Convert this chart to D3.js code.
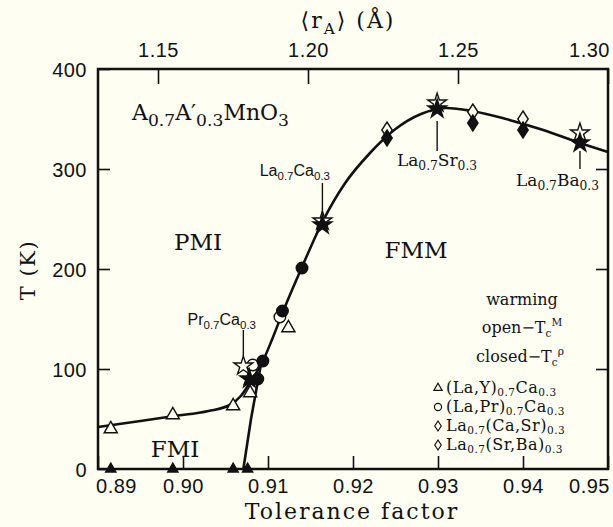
<!DOCTYPE html>
<html>
<head>
<meta charset="utf-8">
<script src="https://cdn.jsdelivr.net/npm/d3@7"></script>
<style>
  body { margin: 0; background: #fefef2; }
  svg { display: block; }
</style>
</head>
<body>
<svg width="613" height="527"></svg>
<script>
// phase boundary curves
var tcLineT = [0.8900, 0.8950, 0.8990, 0.9030, 0.9055, 0.9068, 0.9080, 0.9094, 0.9105, 0.9117, 0.9140, 0.9164, 0.9190, 0.9220, 0.9250, 0.9280, 0.9310, 0.9340, 0.9380, 0.9420, 0.9467, 0.9500];
var tcLineK = [42, 48, 53, 58, 64, 73, 88, 108, 130, 156, 202, 247, 285, 316, 340, 355, 361, 358, 350, 340, 326, 317];
var fmiLineT = [0.9071, 0.9080, 0.9092];
var fmiLineK = [0, 50, 106];

// (La,Y)0.7Ca0.3
var yOpenT = [0.8915, 0.8988, 0.9059, 0.9079, 0.9124];
var yOpenK = [40, 54, 63, 76, 141];
var yFillT = [0.8915, 0.8988, 0.9059, 0.9076, 0.9078];
var yFillK = [0, 0, 0, 0, 88];
// (La,Pr)0.7Ca0.3
var prOpenT = [0.9082, 0.9114];
var prOpenK = [104, 152];
var prFillT = [0.9088, 0.9094, 0.9117, 0.9140];
var prFillK = [90, 108, 158, 201];
// La0.7(Ca,Sr)0.3 and La0.7(Sr,Ba)0.3
var dOpenT = [0.9240, 0.9341, 0.9400];
var dOpenK = [339, 357, 350];
var dFillT = [0.9240, 0.9341, 0.9400];
var dFillK = [331, 346, 339];
// end members
var sOpenT = [0.9071, 0.9164, 0.9299, 0.9467];
var sOpenK = [103, 248, 366, 336];
var sFillT = [0.9078, 0.9164, 0.9299, 0.9467];
var sFillK = [90, 244, 360, 326];

var bottomTicks = [0.89, 0.90, 0.91, 0.92, 0.93, 0.94, 0.95];
var topTicks = [1.15, 1.20, 1.25, 1.30];
var leftTicks = [0, 100, 200, 300, 400];

var svg = d3.select('svg');
var x = d3.scaleLinear().domain([0.89, 0.95]).range([98, 608]);
var xTop = d3.scaleLinear().domain([1.13, 1.30]).range([98, 608]);
var y = d3.scaleLinear().domain([0, 400]).range([469, 69]);

var serif = "'DejaVu Serif', serif";
var sans = "'Liberation Sans', Arial, sans-serif";

// text with _{sub} and ^{sup}
var rich = function(sel, str, size, ratio, drop) {
  ratio = ratio || 0.66;
  drop = drop || 0.26;
  var re = /([_^])\{([^}]*)\}|([^_^]+)/g;
  var m, off = 0;
  while ((m = re.exec(str))) {
    var kind = m[1] || '';
    var target = kind == '_' ? size * drop : kind == '^' ? -size * 0.42 : 0;
    sel.append('tspan')
      .attr('dy', target - off)
      .attr('font-size', kind ? size * ratio : size)
      .text(kind ? m[2] : m[3]);
    off = target;
  }
  return sel;
}

var label = function(px, py, str, size, font, anchor, ratio, drop) {
  var t = svg.append('text')
    .attr('x', px).attr('y', py)
    .attr('font-family', font)
    .attr('text-anchor', anchor || 'start')
    .attr('fill', '#111');
  return rich(t, str, size, ratio, drop);
}

// axes with inward ticks
var axB = svg.append('g').attr('transform', 'translate(0,469)')
  .call(d3.axisBottom(x).tickValues(bottomTicks).tickSize(-13).tickPadding(24).tickFormat(d3.format('.2f')));
var axT = svg.append('g').attr('transform', 'translate(0,69)')
  .call(d3.axisTop(xTop).tickValues(topTicks).tickSize(-15).tickPadding(12).tickFormat(d3.format('.2f')));
var axL = svg.append('g').attr('transform', 'translate(98,0)')
  .call(d3.axisLeft(y).tickValues(leftTicks).tickSize(-12).tickPadding(11).tickFormat(d3.format('d')));
var axR = svg.append('g').attr('transform', 'translate(608,0)')
  .call(d3.axisRight(y).tickValues([100, 200, 300]).tickSize(-12).tickFormat(''));

[axB, axT, axL, axR].forEach(function(a) {
  a.select('.domain').remove();
  a.selectAll('line').attr('stroke', '#111').attr('stroke-width', 1.6);
  a.selectAll('text').attr('font-family', sans).attr('font-size', 20).attr('fill', '#111');
});
axB.selectAll('text').attr('dy', 0).attr('letter-spacing', 0.5)
  .attr('dx', function(d) { return d == 0.89 ? 18 : d == 0.95 ? -19 : 0; });
axT.selectAll('text').attr('letter-spacing', 0.5)
  .attr('dx', function(d) { return d == 1.30 ? -19 : 0; });
axL.selectAll('text').attr('letter-spacing', 0.5).attr('dy', '0.36em');

svg.append('rect')
  .attr('x', 98).attr('y', 69).attr('width', 510).attr('height', 400)
  .attr('fill', 'none').attr('stroke', '#111').attr('stroke-width', 2.5);

// axis titles
label(348, 28, '⟨r_{A}⟩ (Å)', 22, serif, 'middle', 0.7).attr('letter-spacing', 2);
label(352, 519, 'Tolerance factor', 22, serif, 'middle').attr('letter-spacing', 2);
svg.append('text')
  .attr('transform', 'translate(35,270) rotate(-90)')
  .attr('text-anchor', 'middle')
  .attr('font-family', serif).attr('font-size', 21).attr('letter-spacing', 1.5)
  .attr('fill', '#111')
  .text('T (K)');

// curves
var line = d3.line().curve(d3.curveMonotoneX);
svg.append('path')
  .attr('d', line(tcLineT.map(function(t, i) { return [x(t), y(tcLineK[i])]; })))
  .attr('fill', 'none').attr('stroke', '#111').attr('stroke-width', 2.6);
svg.append('path')
  .attr('d', d3.line()(fmiLineT.map(function(t, i) { return [x(t), y(fmiLineK[i])]; })))
  .attr('fill', 'none').attr('stroke', '#111').attr('stroke-width', 2.6);

// leader lines
var leaders = [[0.9071, 139, 113], [0.9164, 286, 254], [0.9299, 348, 318], [0.9467, 318, 300]];
svg.selectAll('.leader').data(leaders).enter().append('line')
  .attr('class', 'leader')
  .attr('x1', function(d) { return x(d[0]); }).attr('x2', function(d) { return x(d[0]); })
  .attr('y1', function(d) { return y(d[1]); }).attr('y2', function(d) { return y(d[2]); })
  .attr('stroke', '#111').attr('stroke-width', 1.4);

// markers
var diamond = function(s) {
  return 'M0,' + (-s) + 'L' + (s * 0.65) + ',0L0,' + s + 'L' + (-s * 0.65) + ',0Z';
}
var addMarks = function(ts, ks, path, filled) {
  svg.append('g').selectAll('path').data(ts).enter().append('path')
    .attr('transform', function(d, i) { return 'translate(' + x(d) + ',' + y(ks[i]) + ')'; })
    .attr('d', path)
    .attr('fill', filled ? '#111' : '#fefef2')
    .attr('stroke', '#111').attr('stroke-width', 1.4);
}
var tri = d3.symbol().type(d3.symbolTriangle).size(75)();
var circ = d3.symbol().type(d3.symbolCircle).size(105)();
var star = d3.symbol().type(d3.symbolStar).size(110)();

addMarks(yOpenT, yOpenK, tri, false);
addMarks(yFillT, yFillK, d3.symbol().type(d3.symbolTriangle).size(45)(), true);
addMarks(prOpenT, prOpenK, circ, false);
addMarks(prFillT, prFillK, circ, true);
addMarks(dOpenT, dOpenK, diamond(8), false);
addMarks(dFillT, dFillK, diamond(8), true);
addMarks(sOpenT, sOpenK, star, false);
addMarks(sFillT, sFillK, star, true);

// region and compound labels
label(132, 120, 'A_{0.7}A′_{0.3}MnO_{3}', 22, serif, 'start', 0.78);
label(198, 250, 'PMI', 23, serif, 'middle');
label(416, 258, 'FMM', 23, serif, 'middle');
label(175, 457, 'FMI', 23, serif, 'middle');
label(256, 325, 'Pr_{0.7}Ca_{0.3}', 16, sans, 'end', 0.72);
label(330, 176, 'La_{0.7}Ca_{0.3}', 16, sans, 'end', 0.72);
label(437, 166, 'La_{0.7}Sr_{0.3}', 17, serif, 'middle', 0.72);
label(599, 186, 'La_{0.7}Ba_{0.3}', 17, serif, 'end', 0.72);

label(522, 305, 'warming', 16, serif, 'middle');
label(522, 333, 'open−T_{c}^{M}', 16, serif, 'middle');
label(520, 362, 'closed−T_{c}^{ρ}', 16, serif, 'middle');

// legend
var legendNames = ['(La,Y)_{0.7}Ca_{0.3}', '(La,Pr)_{0.7}Ca_{0.3}', 'La_{0.7}(Ca,Sr)_{0.3}', 'La_{0.7}(Sr,Ba)_{0.3}'];
var legendMarks = [d3.symbol().type(d3.symbolTriangle).size(30)(), d3.symbol().type(d3.symbolCircle).size(40)(), diamond(5), diamond(5)];
legendNames.forEach(function(n, i) {
  var ly = 388 + i * 19;
  svg.append('path').attr('transform', 'translate(438,' + ly + ')')
    .attr('d', legendMarks[i]).attr('fill', 'none').attr('stroke', '#111').attr('stroke-width', 1.2);
  label(446, ly + 5, n, 16, serif, 'start', 0.66, 0.18).attr('letter-spacing', 0.5);
});
</script>
</body>
</html>
